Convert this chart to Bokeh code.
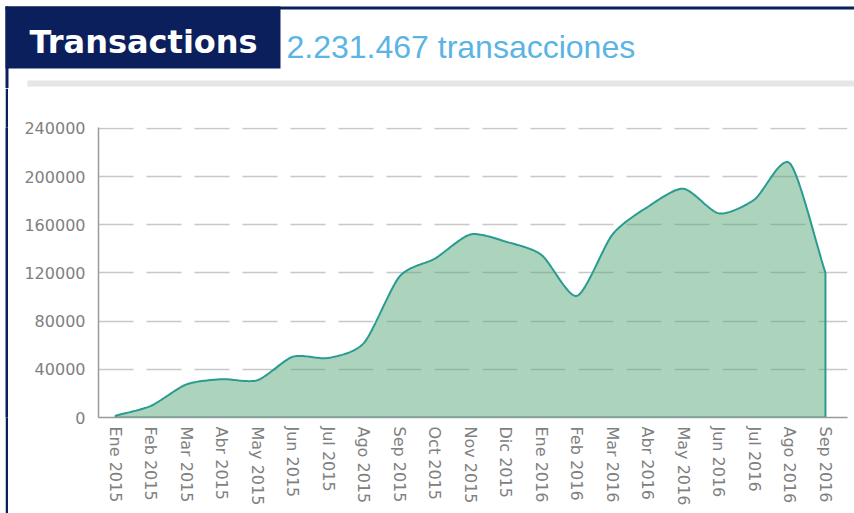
from bokeh.plotting import figure
from bokeh.layouts import column, row
from bokeh.models import Range1d, FixedTicker, BasicTickFormatter, Spacer
from bokeh.core.properties import value
from bokeh.embed import file_html
from bokeh.resources import INLINE
import numpy as np

# ---- data ----
months = ["Ene 2015", "Feb 2015", "Mar 2015", "Abr 2015", "May 2015", "Jun 2015",
          "Jul 2015", "Ago 2015", "Sep 2015", "Oct 2015", "Nov 2015", "Dic 2015",
          "Ene 2016", "Feb 2016", "Mar 2016", "Abr 2016", "May 2016", "Jun 2016",
          "Jul 2016", "Ago 2016", "Sep 2016"]
transactions = [1500, 9700, 27500, 31800, 31000, 50500, 49500, 62000, 117000, 132000,
                152000, 146000, 135000, 101000, 152000, 175000, 190000, 169500,
                181000, 211000, 120000]
y_ticks = [0, 40000, 80000, 120000, 160000, 200000, 240000]
title_text = "Transactions"
total_text = "2.231.467 transacciones"

# ---- style ----
NAVY = "#0b1f5c"
LINE = "#2a9b91"
FILL = "#5aaa7a"
LABEL_GRAY = "#808080"
TOTAL_W, TOTAL_H = 854, 513
HEAD_H = 88
CH_W, CH_H = TOTAL_W - 8, TOTAL_H - HEAD_H


def smooth_path(xv, yv, steps=24):
    """Morris.js-style smooth bezier path through the data points (drawing only)."""
    n = len(xv)
    grads = []
    for i in range(n):
        if 0 < i < n - 1:
            grads.append((yv[i + 1] - yv[i - 1]) / (xv[i + 1] - xv[i - 1]))
        elif i == 0:
            grads.append((yv[1] - yv[0]) / (xv[1] - xv[0]))
        else:
            grads.append((yv[i] - yv[i - 1]) / (xv[i] - xv[i - 1]))
    px, py = [xv[0]], [yv[0]]
    t = np.linspace(0, 1, steps)[1:]
    for i in range(1, n):
        ix = (xv[i] - xv[i - 1]) / 4.0
        x0, y0 = xv[i - 1], yv[i - 1]
        x1, y1 = x0 + ix, max(0, y0 + ix * grads[i - 1])
        x3, y3 = xv[i], yv[i]
        x2, y2 = x3 - ix, max(0, y3 - ix * grads[i])
        bx = (1 - t) ** 3 * x0 + 3 * (1 - t) ** 2 * t * x1 + 3 * (1 - t) * t ** 2 * x2 + t ** 3 * x3
        by = (1 - t) ** 3 * y0 + 3 * (1 - t) ** 2 * t * y1 + 3 * (1 - t) * t ** 2 * y2 + t ** 3 * y3
        px.extend(bx.tolist())
        py.extend(by.tolist())
    return px, py


def blank(w, h, xr, yr, bg="white"):
    f = figure(width=w, height=h, output_backend="svg", toolbar_location=None,
               x_range=Range1d(*xr), y_range=Range1d(*yr),
               min_border=0, x_axis_location=None, y_axis_location=None)
    f.grid.visible = False
    f.outline_line_color = None
    f.background_fill_color = bg
    f.border_fill_color = bg
    return f


# ---- header (pixel space, y downwards) ----
head = blank(TOTAL_W, HEAD_H, (0, TOTAL_W), (HEAD_H, 0))
head.quad(left=[5], right=[TOTAL_W], top=[6], bottom=[9], fill_color=NAVY, line_color=None)
head.quad(left=[5], right=[8], top=[6], bottom=[HEAD_H], fill_color=NAVY, line_color=None)
head.quad(left=[5], right=[280], top=[6], bottom=[68], fill_color=NAVY, line_color=None)
head.quad(left=[27], right=[TOTAL_W], top=[80], bottom=[86], fill_color="#e6e6e6", line_color=None)
head.text(x=[29], y=[41], text=[title_text], text_font=value("DejaVu Sans"),
          text_font_style="bold", text_font_size="32px", text_color="white",
          text_baseline="alphabetic")
head.text(x=[286], y=[46.5], text=[total_text], text_font=value("Liberation Sans"),
          text_font_size="32px", text_color="#5ab4e4", text_baseline="alphabetic")

# ---- left border strip (solid navy) ----
strip = blank(3, CH_H, (0, 1), (0, 1), bg=NAVY)

# ---- chart ----
xs = list(range(len(months)))
sx_, sy_ = smooth_path(xs, transactions)
poly_x = sx_ + [xs[-1], xs[0]]
poly_y = sy_ + [0, 0]

FL, FR, FT, FB = 90, 839, 39, 329   # frame edges inside chart canvas
ppu = (FR - FL) / 21.1
y_top = y_ticks[-1] * (1 + 1.0 / (FB - FT))
p = figure(width=CH_W, height=CH_H, output_backend="svg", toolbar_location=None,
           x_range=Range1d(-17 / ppu, -17 / ppu + 21.1), y_range=Range1d(y_ticks[0], y_top),
           min_border_left=FL, min_border_right=CH_W - FR, min_border_top=FT,
           min_border_bottom=CH_H - FB)
p.outline_line_color = None
p.background_fill_color = "white"
p.border_fill_color = "white"

p.patch(poly_x, poly_y, fill_color=FILL, fill_alpha=0.5, line_color=LINE, line_width=2)

p.xaxis.ticker = FixedTicker(ticks=xs)
p.xaxis.major_label_overrides = {i: m for i, m in enumerate(months)}
p.xaxis.major_label_orientation = "vertical"
p.yaxis.ticker = FixedTicker(ticks=y_ticks)
p.yaxis.formatter = BasicTickFormatter(use_scientific=False)
for ax in (p.xaxis, p.yaxis):
    ax.axis_line_color = "#9a9a9a"
    ax.axis_line_width = 1.5
    ax.major_tick_line_color = None
    ax.minor_tick_line_color = None
    ax.major_label_text_font = "DejaVu Sans"
    ax.major_label_text_font_size = "16px"
    ax.major_label_text_color = LABEL_GRAY
p.xaxis.major_label_standoff = 3
p.yaxis.major_label_standoff = 7

p.xgrid.grid_line_color = None
p.ygrid.ticker = FixedTicker(ticks=y_ticks)
p.ygrid.grid_line_color = "#c8c8c8"
p.ygrid.grid_line_width = 1.5
p.ygrid.grid_line_dash = "35 13"

layout = column(head, row(Spacer(width=5, height=CH_H), strip, p, spacing=0), spacing=0)
open("out.html", "w").write(file_html(layout, INLINE))
